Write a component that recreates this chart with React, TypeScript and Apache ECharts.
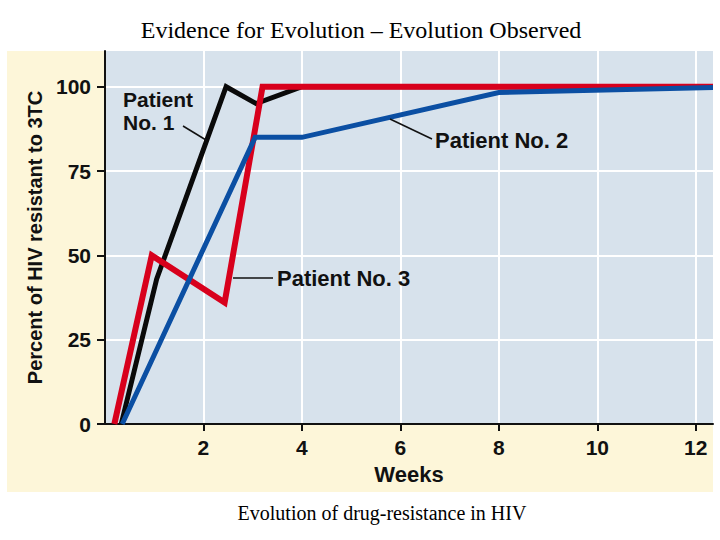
import React, { useEffect, useRef } from "react";
import * as echarts from "echarts";

// Weeks after start of 3TC treatment and % of HIV resistant to 3TC, per patient
const patient1Weeks = [0.33, 1.05, 2.46, 3.07, 4.0, 12.35];
const patient1Pct = [0, 43, 100, 95, 100, 100];

const patient2Weeks = [0.35, 3.05, 4.0, 8.0, 12.35];
const patient2Pct = [0, 85, 85, 98.3, 99.8];

const patient3Weeks = [0.19, 0.95, 2.43, 3.2, 12.35];
const patient3Pct = [0, 50, 36, 100, 100];

const xTicks = [2, 4, 6, 8, 10, 12];
const yTicks = [0, 25, 50, 75, 100];

const X_MAX = 12.35;
const Y_MAX = 110.6;

const SANS = "Liberation Sans, Arial, Helvetica, sans-serif";
const SERIF = "Liberation Serif, Times New Roman, serif";

const pairs = (xs: number[], ys: number[]) => xs.map((x, i) => [x, ys[i]]);

const lineSeries = (name: string, xs: number[], ys: number[], color: string, width: number) => ({
  name,
  type: "line",
  data: pairs(xs, ys),
  symbol: "none",
  lineStyle: { color, width, join: "miter", cap: "butt" },
  emphasis: { disabled: true },
});

const labelText = (text: string, x: number, y: number, size = 22) => ({
  type: "text",
  x,
  y,
  z: 20,
  style: { text, font: `bold ${size}px ${SANS}`, fill: "#111", align: "left", verticalAlign: "middle" },
});

export default function App() {
  const ref = useRef<HTMLDivElement>(null);

  useEffect(() => {
    if (!ref.current) return;
    const chart = echarts.init(ref.current, undefined, { renderer: "svg" });
    chart.setOption({
      animation: false,
      backgroundColor: "#ffffff",
      grid: {
        left: 105,
        right: 7,
        top: 51,
        bottom: 116,
        show: true,
        backgroundColor: "#d7e2ec",
        borderWidth: 0,
      },
      xAxis: {
        type: "value",
        min: 0,
        max: X_MAX,
        name: "Weeks",
        nameLocation: "middle",
        nameGap: 39,
        nameTextStyle: { fontFamily: SANS, fontWeight: "bold", fontSize: 22, color: "#111" },
        axisLine: { show: true, lineStyle: { color: "#111", width: 2 } },
        axisTick: { show: true, customValues: xTicks, length: 7, lineStyle: { color: "#111", width: 2 } },
        axisLabel: {
          customValues: xTicks,
          margin: 13,
          fontFamily: SANS,
          fontWeight: "bold",
          fontSize: 21,
          color: "#111",
        },
        splitLine: { show: true, lineStyle: { color: "#ffffff", width: 2 } },
      },
      yAxis: {
        type: "value",
        min: 0,
        max: Y_MAX,
        name: "Percent of HIV resistant to 3TC",
        nameLocation: "middle",
        nameRotate: 90,
        nameGap: 58,
        nameTextStyle: { fontFamily: SANS, fontWeight: "bold", fontSize: 20, color: "#111" },
        axisLine: { show: true, lineStyle: { color: "#111", width: 2 } },
        axisTick: { show: true, customValues: yTicks, length: 8, lineStyle: { color: "#111", width: 2 } },
        axisLabel: {
          customValues: yTicks,
          margin: 14,
          fontFamily: SANS,
          fontWeight: "bold",
          fontSize: 21,
          color: "#111",
        },
        splitLine: { show: true, lineStyle: { color: "#ffffff", width: 2 } },
      },
      series: [
        lineSeries("Patient No. 1", patient1Weeks, patient1Pct, "#0a0a0a", 5),
        lineSeries("Patient No. 3", patient3Weeks, patient3Pct, "#d8001c", 6),
        lineSeries("Patient No. 2", patient2Weeks, patient2Pct, "#0b4fa3", 5),
      ],
      graphic: [
        // beige figure panel behind the plot
        {
          type: "rect",
          z: -10,
          silent: true,
          shape: { x: 7, y: 51, width: 706, height: 441 },
          style: { fill: "#fdf6d9" },
        },
        {
          type: "text",
          x: 361,
          y: 30,
          style: {
            text: "Evidence for Evolution \u2013 Evolution Observed",
            font: `24px ${SERIF}`,
            fill: "#000",
            align: "center",
            verticalAlign: "middle",
          },
        },
        {
          type: "text",
          x: 382,
          y: 513,
          style: {
            text: "Evolution of drug-resistance in HIV",
            font: `20px ${SERIF}`,
            fill: "#000",
            align: "center",
            verticalAlign: "middle",
          },
        },
        // series annotations with leader lines
        labelText("Patient", 123, 99.5, 21),
        labelText("No. 1", 123, 122.5, 21),
        {
          type: "line",
          z: 20,
          shape: { x1: 183, y1: 126, x2: 206, y2: 140 },
          style: { stroke: "#111", lineWidth: 1.5 },
        },
        labelText("Patient No. 2", 435, 140),
        {
          type: "line",
          z: 20,
          shape: { x1: 390, y1: 119, x2: 432, y2: 139 },
          style: { stroke: "#111", lineWidth: 1.5 },
        },
        labelText("Patient No. 3", 277, 278),
        {
          type: "line",
          z: 20,
          shape: { x1: 233, y1: 278, x2: 273, y2: 278 },
          style: { stroke: "#111", lineWidth: 1.5 },
        },
      ],
    });
    return () => chart.dispose();
  }, []);

  return (
    <div
      ref={ref}
      style={{ position: "fixed", left: 0, top: 0, width: 720, height: 540, background: "#fff" }}
    />
  );
}
